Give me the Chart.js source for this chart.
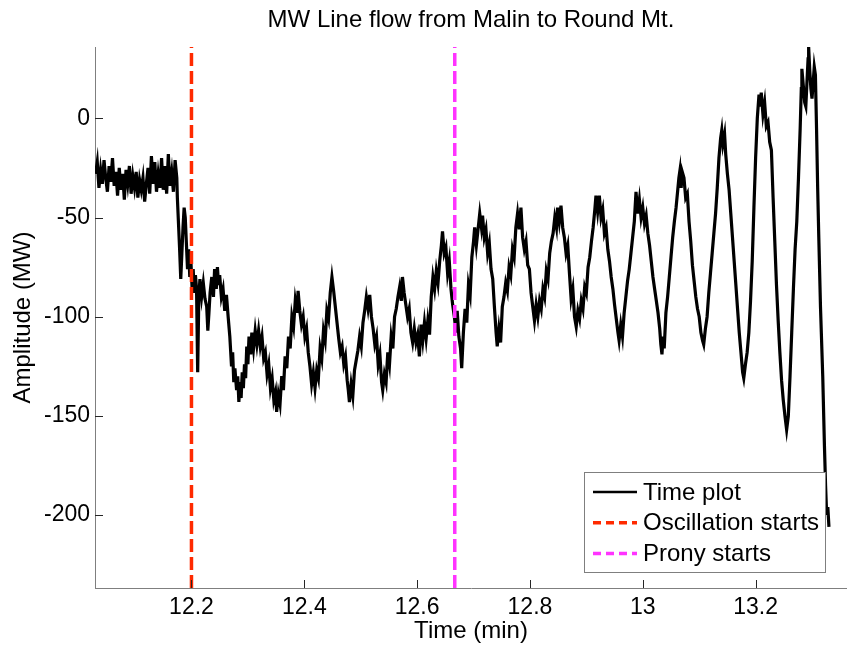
<!DOCTYPE html>
<html>
<head>
<meta charset="utf-8">
<script src="https://cdn.jsdelivr.net/npm/chart.js@4.4.1/dist/chart.umd.min.js"></script>
<style>
  html, body { margin: 0; padding: 0; background: #fff; }
</style>
</head>
<body>
<canvas id="flowChart" width="847" height="650"></canvas>
<script>
// Malin -> Round Mt. line flow, [time (min), MW]
const flowTrace = [
  [12.030,-28],[12.033,-22],[12.036,-35],[12.039,-26],[12.042,-33],[12.045,-21],[12.048,-30],[12.051,-37],
  [12.054,-24],[12.057,-32],[12.060,-20],[12.063,-34],[12.066,-27],[12.069,-39],[12.072,-25],[12.075,-36],
  [12.078,-28],[12.081,-41],[12.084,-26],[12.087,-33],[12.090,-24],[12.093,-38],[12.096,-29],[12.099,-35],
  [12.102,-27],[12.105,-40],[12.108,-31],[12.111,-36],[12.114,-30],[12.117,-42],[12.120,-33],[12.123,-25],
  [12.126,-38],[12.129,-19],[12.132,-33],[12.135,-22],[12.138,-37],[12.141,-28],[12.144,-35],[12.147,-20],
  [12.150,-36],[12.153,-24],[12.156,-38],[12.159,-18],[12.162,-34],[12.165,-27],[12.168,-37],[12.171,-21],
  [12.174,-30],[12.175,-40],[12.177,-53],[12.179,-66],[12.181,-81],[12.183,-68],[12.185,-55],[12.187,-45],
  [12.189,-50],[12.191,-63],[12.193,-76],[12.195,-66],[12.197,-80],[12.199,-72],[12.201,-85],[12.203,-76],
  [12.205,-88],[12.207,-79],[12.209,-86],[12.211,-128],[12.213,-90],[12.215,-81],[12.218,-90],[12.221,-83],
  [12.224,-91],[12.227,-95],[12.229,-107],[12.231,-98],[12.233,-88],[12.236,-80],[12.239,-90],[12.241,-76],
  [12.244,-86],[12.246,-75],[12.248,-84],[12.250,-79],[12.253,-90],[12.256,-86],[12.259,-97],[12.262,-89],
  [12.265,-100],[12.268,-110],[12.271,-125],[12.273,-118],[12.275,-133],[12.277,-126],[12.280,-137],[12.282,-130],
  [12.284,-143],[12.286,-133],[12.288,-141],[12.290,-128],[12.292,-136],[12.294,-124],[12.296,-131],[12.298,-115],
  [12.300,-124],[12.302,-110],[12.305,-119],[12.307,-108],[12.310,-116],[12.313,-107],[12.316,-114],[12.319,-107],
  [12.322,-115],[12.325,-110],[12.328,-121],[12.331,-118],[12.334,-129],[12.337,-124],[12.340,-136],[12.343,-131],
  [12.346,-142],[12.349,-138],[12.351,-148],[12.354,-139],[12.357,-144],[12.360,-130],[12.363,-137],[12.366,-120],
  [12.369,-126],[12.372,-110],[12.375,-116],[12.378,-100],[12.381,-105],[12.384,-92],[12.387,-98],[12.389,-87],
  [12.392,-97],[12.395,-104],[12.398,-100],[12.401,-110],[12.404,-106],[12.407,-118],[12.410,-125],[12.413,-134],
  [12.416,-128],[12.419,-136],[12.422,-127],[12.425,-131],[12.428,-116],[12.431,-121],[12.434,-107],[12.437,-112],
  [12.440,-97],[12.443,-101],[12.446,-88],[12.449,-80],[12.452,-87],[12.455,-95],[12.458,-103],[12.461,-111],
  [12.464,-118],[12.467,-115],[12.470,-124],[12.473,-120],[12.476,-132],[12.478,-137],[12.480,-143],[12.483,-134],
  [12.486,-140],[12.489,-127],[12.492,-122],[12.495,-117],[12.498,-110],[12.501,-115],[12.504,-103],[12.507,-97],
  [12.510,-90],[12.513,-96],[12.516,-89],[12.519,-100],[12.522,-106],[12.525,-114],[12.528,-110],[12.531,-124],
  [12.534,-119],[12.537,-133],[12.539,-137],[12.542,-129],[12.545,-133],[12.548,-118],[12.551,-124],[12.554,-110],
  [12.557,-116],[12.560,-100],[12.563,-96],[12.566,-90],[12.569,-85],[12.572,-92],[12.574,-80],[12.577,-88],
  [12.580,-94],[12.583,-100],[12.586,-96],[12.589,-108],[12.592,-113],[12.595,-106],[12.598,-113],[12.601,-109],
  [12.604,-120],[12.607,-104],[12.610,-112],[12.613,-103],[12.616,-111],[12.619,-102],[12.622,-109],[12.625,-90],
  [12.628,-80],[12.631,-86],[12.634,-77],[12.637,-83],[12.640,-72],[12.643,-64],[12.645,-57],[12.648,-68],
  [12.651,-65],[12.654,-78],[12.657,-72],[12.660,-86],[12.663,-94],[12.666,-100],[12.669,-108],[12.671,-97],
  [12.674,-110],[12.677,-116],[12.679,-126],[12.682,-108],[12.685,-96],[12.688,-103],[12.691,-84],[12.694,-89],
  [12.697,-70],[12.700,-62],[12.702,-55],[12.705,-64],[12.708,-56],[12.711,-48],[12.714,-55],[12.716,-49],
  [12.719,-60],[12.722,-56],[12.725,-68],[12.728,-63],[12.731,-76],[12.734,-81],[12.737,-95],[12.740,-108],
  [12.742,-115],[12.745,-106],[12.748,-113],[12.751,-95],[12.754,-90],[12.757,-83],[12.760,-87],[12.763,-75],
  [12.766,-79],[12.769,-66],[12.772,-70],[12.775,-55],[12.778,-48],[12.781,-56],[12.784,-45],[12.787,-60],
  [12.790,-66],[12.793,-62],[12.796,-74],[12.799,-76],[12.802,-88],[12.805,-95],[12.808,-102],[12.811,-94],
  [12.814,-100],[12.817,-92],[12.820,-96],[12.823,-86],[12.826,-90],[12.829,-77],[12.832,-81],[12.835,-68],
  [12.838,-62],[12.841,-58],[12.844,-50],[12.847,-55],[12.849,-45],[12.852,-52],[12.855,-44],[12.858,-55],
  [12.861,-60],[12.864,-68],[12.867,-64],[12.870,-78],[12.873,-91],[12.876,-86],[12.879,-100],[12.882,-105],
  [12.885,-97],[12.888,-101],[12.891,-92],[12.894,-96],[12.897,-85],[12.900,-88],[12.903,-75],[12.906,-70],
  [12.909,-62],[12.912,-55],[12.915,-46],[12.917,-39],[12.920,-47],[12.923,-39],[12.926,-50],[12.929,-46],
  [12.932,-58],[12.935,-55],[12.938,-66],[12.941,-72],[12.944,-80],[12.947,-86],[12.950,-94],[12.953,-101],
  [12.956,-108],[12.958,-112],[12.961,-104],[12.964,-110],[12.967,-98],[12.970,-90],[12.973,-82],[12.976,-76],
  [12.979,-68],[12.982,-60],[12.985,-52],[12.988,-37],[12.991,-48],[12.994,-41],[12.997,-50],[13.000,-45],
  [13.003,-53],[13.006,-49],[13.009,-58],[13.012,-64],[13.015,-72],[13.018,-80],[13.021,-86],[13.024,-92],
  [13.027,-98],[13.030,-106],[13.032,-114],[13.034,-119],[13.036,-110],[13.038,-116],[13.041,-98],[13.044,-90],
  [13.047,-80],[13.050,-70],[13.053,-60],[13.056,-52],[13.059,-45],[13.062,-36],[13.064,-30],[13.066,-26],
  [13.068,-35],[13.070,-27],[13.073,-30],[13.076,-40],[13.079,-38],[13.082,-52],[13.085,-62],[13.088,-74],
  [13.091,-82],[13.094,-90],[13.097,-96],[13.100,-100],[13.103,-108],[13.106,-112],[13.108,-114],[13.111,-106],
  [13.114,-100],[13.117,-88],[13.120,-78],[13.123,-68],[13.126,-58],[13.129,-48],[13.132,-35],[13.135,-20],
  [13.138,-10],[13.140,-6],[13.142,-13],[13.145,-8],[13.147,-18],[13.150,-28],[13.153,-36],[13.156,-48],
  [13.159,-60],[13.162,-72],[13.165,-84],[13.168,-96],[13.171,-108],[13.174,-118],[13.177,-128],[13.179,-131],
  [13.182,-124],[13.185,-118],[13.188,-108],[13.191,-92],[13.194,-72],[13.197,-45],[13.200,-20],[13.203,0],
  [13.206,12],[13.208,6],[13.210,13],[13.213,2],[13.216,8],[13.219,-4],[13.222,-2],[13.225,-12],
  [13.228,-16],[13.231,-40],[13.234,-62],[13.237,-84],[13.240,-102],[13.243,-118],[13.246,-132],[13.249,-142],
  [13.252,-150],[13.255,-157],[13.258,-150],[13.261,-130],[13.264,-108],[13.267,-86],[13.270,-66],[13.273,-52],
  [13.276,-30],[13.279,-5],[13.281,15],[13.282,25],[13.285,15],[13.287,8],[13.289,6],[13.291,18],
  [13.293,30],[13.294,36],[13.296,24],[13.298,15],[13.300,10],[13.302,18],[13.304,26],[13.306,22],
  [13.308,-5],[13.310,-35],[13.312,-60],[13.315,-95],[13.319,-130],[13.322,-165],[13.324,-185],[13.326,-200],
  [13.328,-196],[13.330,-206]
];

// event markers (min)
const markerLabels = ['Oscillation starts', 'Prony starts'];
const markerTimes = [12.2, 12.6667];
const markerColors = ['#ff2a00', '#ff33ff'];

const xRange = [12.029, 13.362];
const yRange = [-236.8, 36];
const xTicks = [12.2, 12.4, 12.6, 12.8, 13, 13.2];
const yTicks = [-200, -150, -100, -50, 0];

const FONT = '"Liberation Sans", Arial, Helvetica, sans-serif';

// inward tick marks on the left and bottom axes
const innerTicks = {
  id: 'innerTicks',
  afterDraw(chart) {
    const { ctx, chartArea: a, scales: { x, y } } = chart;
    ctx.save();
    ctx.strokeStyle = '#262626';
    ctx.lineWidth = 1;
    ctx.beginPath();
    xTicks.forEach(v => {
      const px = Math.round(x.getPixelForValue(v)) + 0.5;
      ctx.moveTo(px, a.bottom);
      ctx.lineTo(px, a.bottom - 8);
    });
    yTicks.forEach(v => {
      const py = Math.round(y.getPixelForValue(v)) + 0.5;
      ctx.moveTo(a.left, py);
      ctx.lineTo(a.left + 8, py);
    });
    ctx.stroke();
    ctx.restore();
  }
};

// boxed legend in the lower right corner of the plot
const cornerLegend = {
  id: 'cornerLegend',
  afterDraw(chart) {
    const { ctx, chartArea: a } = chart;
    const w = 241, h = 100;
    const left = a.right - 22 - w, top = a.bottom - 16 - h;
    ctx.save();
    ctx.fillStyle = '#fff';
    ctx.fillRect(left, top, w, h);
    ctx.strokeStyle = '#7f7f7f';
    ctx.lineWidth = 1;
    ctx.strokeRect(left + 0.5, top + 0.5, w, h);
    ctx.font = '24px ' + FONT;
    ctx.textBaseline = 'middle';
    ctx.fillStyle = '#000';
    chart.data.datasets.forEach((ds, i) => {
      const cy = top + 20 + i * 30.8;
      ctx.beginPath();
      ctx.setLineDash(ds.borderDash ? [8, 5] : []);
      ctx.strokeStyle = ds.borderColor;
      ctx.lineWidth = ds.borderDash ? 3.5 : 2.5;
      ctx.moveTo(left + 9, cy);
      ctx.lineTo(left + 53, cy);
      ctx.stroke();
      ctx.setLineDash([]);
      ctx.fillText(ds.label, left + 59, cy + 1);
    });
    ctx.restore();
  }
};

const markerSets = markerTimes.map((t, i) => ({
  label: markerLabels[i],
  data: [{ x: t, y: yRange[0] }, { x: t, y: yRange[1] }],
  borderColor: markerColors[i],
  borderWidth: 3.5,
  borderDash: [13, 5],
  pointRadius: 0,
  order: 0
}));

new Chart(document.getElementById('flowChart'), {
  type: 'line',
  data: {
    datasets: [{
      label: 'Time plot',
      data: flowTrace.map(([t, mw]) => ({ x: t, y: mw })),
      borderColor: '#000',
      borderWidth: 3.2,
      borderJoinStyle: 'miter',
      pointRadius: 0,
      tension: 0,
      order: 1
    }, ...markerSets]
  },
  options: {
    responsive: false,
    animation: false,
    events: [],
    layout: { padding: 0 },
    plugins: {
      legend: { display: false },
      tooltip: { enabled: false },
      title: {
        display: true,
        fullSize: false,
        text: 'MW Line flow from Malin to Round Mt.',
        color: '#000',
        font: { family: FONT, size: 24, weight: 'normal', lineHeight: 1.2 },
        padding: { top: 6, bottom: 12.2 }
      }
    },
    scales: {
      x: {
        type: 'linear',
        min: xRange[0],
        max: xRange[1],
        afterBuildTicks: s => { s.ticks = xTicks.map(v => ({ value: v })); },
        afterFit: s => { s.height = 62; },
        grid: { display: false, drawTicks: false },
        border: { display: true, color: '#7f7f7f', width: 1 },
        ticks: {
          color: '#000',
          font: { family: FONT, size: 23 },
          padding: 6,
          maxRotation: 0,
          autoSkip: false,
          callback: v => String(v)
        },
        title: {
          display: true,
          text: 'Time (min)',
          color: '#000',
          font: { family: FONT, size: 24, lineHeight: 1.2 },
          padding: { top: 0, bottom: 4 }
        }
      },
      y: {
        type: 'linear',
        min: yRange[0],
        max: yRange[1],
        afterBuildTicks: s => { s.ticks = yTicks.map(v => ({ value: v })); },
        afterFit: s => { s.width = 95; },
        grid: { display: false, drawTicks: false },
        border: { display: true, color: '#7f7f7f', width: 1 },
        ticks: {
          color: '#000',
          font: { family: FONT, size: 23 },
          padding: 5,
          callback: v => String(v)
        },
        title: {
          display: true,
          text: 'Amplitude (MW)',
          color: '#000',
          font: { family: FONT, size: 24, lineHeight: 1.2 },
          padding: { top: 9, bottom: 0 }
        }
      }
    }
  },
  plugins: [innerTicks, cornerLegend]
});
</script>
</body>
</html>
